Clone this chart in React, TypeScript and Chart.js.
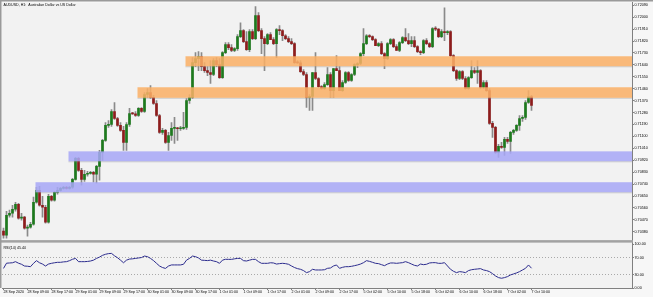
import React, { useEffect, useRef } from 'react';
import { Chart, registerables } from 'chart.js';

Chart.register(...registerables);

const chartTitle = 'AUDUSD, H1:  Australian Dollar vs US Dollar';
const rsiTitle = 'RSI(14) 45.44';

const timeLabels = [
  '28 Sep 2020', '28 Sep 09:00', '28 Sep 17:00', '29 Sep 01:00', '29 Sep 09:00', '29 Sep 17:00',
  '30 Sep 01:00', '30 Sep 09:00', '30 Sep 17:00', '1 Oct 01:00', '1 Oct 09:00', '1 Oct 17:00',
  '2 Oct 01:00', '2 Oct 09:00', '2 Oct 17:00', '5 Oct 02:00', '5 Oct 10:00', '5 Oct 18:00',
  '6 Oct 02:00', '6 Oct 10:00', '6 Oct 18:00', '7 Oct 02:00', '7 Oct 10:00',
];
const barsPerLabel = 8;
const totalSlots = 210;

// [open, high, low, close]
const candles = [
  [0.70385, 0.70407, 0.70332, 0.70354], [0.70354, 0.70535, 0.70332, 0.70505], [0.70505, 0.70543, 0.70490, 0.70520],
  [0.70520, 0.70580, 0.70490, 0.70550], [0.70550, 0.70603, 0.70535, 0.70588], [0.70588, 0.70595, 0.70475, 0.70482],
  [0.70482, 0.70520, 0.70467, 0.70490], [0.70490, 0.70497, 0.70400, 0.70407], [0.70407, 0.70430, 0.70347, 0.70415],
  [0.70415, 0.70452, 0.70407, 0.70437], [0.70437, 0.70641, 0.70430, 0.70603], [0.70603, 0.70716, 0.70595, 0.70693],
  [0.70693, 0.70723, 0.70573, 0.70580], [0.70580, 0.70648, 0.70490, 0.70565], [0.70565, 0.70580, 0.70445, 0.70452],
  [0.70452, 0.70663, 0.70445, 0.70648], [0.70648, 0.70656, 0.70611, 0.70618], [0.70618, 0.70686, 0.70611, 0.70678],
  [0.70678, 0.70716, 0.70663, 0.70693], [0.70693, 0.70716, 0.70686, 0.70708], [0.70708, 0.70723, 0.70701, 0.70716],
  [0.70716, 0.70723, 0.70701, 0.70708], [0.70708, 0.70723, 0.70701, 0.70716], [0.70716, 0.70784, 0.70708, 0.70776],
  [0.70776, 0.70942, 0.70769, 0.70934], [0.70934, 0.70942, 0.70836, 0.70844], [0.70844, 0.70859, 0.70731, 0.70776],
  [0.70776, 0.70844, 0.70761, 0.70814], [0.70814, 0.70836, 0.70799, 0.70821], [0.70821, 0.70836, 0.70814, 0.70829],
  [0.70829, 0.70836, 0.70754, 0.70814], [0.70814, 0.70882, 0.70746, 0.70874], [0.70874, 0.70995, 0.70769, 0.70979],
  [0.70979, 0.71077, 0.70919, 0.71070], [0.71070, 0.71205, 0.71062, 0.71183], [0.71183, 0.71220, 0.71168, 0.71190],
  [0.71190, 0.71303, 0.71175, 0.71288], [0.71288, 0.71356, 0.71228, 0.71235], [0.71235, 0.71243, 0.71175, 0.71183],
  [0.71183, 0.71205, 0.71138, 0.71145], [0.71145, 0.71175, 0.70995, 0.71055], [0.71055, 0.71205, 0.70995, 0.71190],
  [0.71190, 0.71311, 0.71175, 0.71273], [0.71273, 0.71281, 0.71266, 0.71270], [0.71270, 0.71288, 0.71251, 0.71258],
  [0.71258, 0.71318, 0.71251, 0.71311], [0.71311, 0.71318, 0.71281, 0.71288], [0.71288, 0.71431, 0.71281, 0.71416],
  [0.71416, 0.71461, 0.71394, 0.71431], [0.71431, 0.71484, 0.71386, 0.71394], [0.71394, 0.71409, 0.71341, 0.71348],
  [0.71348, 0.71371, 0.71251, 0.71258], [0.71258, 0.71266, 0.71123, 0.71130], [0.71130, 0.71160, 0.71115, 0.71145],
  [0.71145, 0.71153, 0.71047, 0.71055], [0.71055, 0.71130, 0.70995, 0.71107], [0.71107, 0.71205, 0.71070, 0.71160],
  [0.71160, 0.71243, 0.71047, 0.71162], [0.71162, 0.71168, 0.71070, 0.71158], [0.71158, 0.71175, 0.71145, 0.71160],
  [0.71160, 0.71281, 0.71153, 0.71168], [0.71168, 0.71386, 0.71153, 0.71371], [0.71371, 0.71416, 0.71348, 0.71394],
  [0.71394, 0.71695, 0.71386, 0.71657], [0.71657, 0.71732, 0.71627, 0.71687], [0.71687, 0.71740, 0.71597, 0.71702],
  [0.71702, 0.71732, 0.71597, 0.71627], [0.71627, 0.71657, 0.71582, 0.71597], [0.71597, 0.71627, 0.71559, 0.71582],
  [0.71582, 0.71672, 0.71499, 0.71567], [0.71567, 0.71687, 0.71559, 0.71672], [0.71672, 0.71695, 0.71627, 0.71642],
  [0.71642, 0.71687, 0.71537, 0.71544], [0.71544, 0.71740, 0.71537, 0.71732], [0.71732, 0.71808, 0.71725, 0.71793],
  [0.71793, 0.71808, 0.71755, 0.71770], [0.71770, 0.71793, 0.71740, 0.71748], [0.71748, 0.71770, 0.71740, 0.71763],
  [0.71763, 0.71868, 0.71748, 0.71853], [0.71853, 0.71958, 0.71845, 0.71898], [0.71898, 0.71906, 0.71808, 0.71815],
  [0.71815, 0.71891, 0.71748, 0.71755], [0.71755, 0.71906, 0.71740, 0.71891], [0.71891, 0.71906, 0.71830, 0.71838],
  [0.71838, 0.72079, 0.71830, 0.72011], [0.72011, 0.72034, 0.71891, 0.71898], [0.71898, 0.71913, 0.71725, 0.71838],
  [0.71838, 0.71853, 0.71597, 0.71800], [0.71800, 0.71876, 0.71793, 0.71868], [0.71868, 0.71883, 0.71830, 0.71830],
  [0.71830, 0.71845, 0.71793, 0.71800], [0.71800, 0.71913, 0.71695, 0.71906], [0.71906, 0.71936, 0.71868, 0.71898],
  [0.71898, 0.71906, 0.71823, 0.71860], [0.71860, 0.71868, 0.71830, 0.71838], [0.71838, 0.71853, 0.71808, 0.71815],
  [0.71815, 0.71838, 0.71793, 0.71800], [0.71800, 0.71808, 0.71650, 0.71657], [0.71657, 0.71672, 0.71650, 0.71655],
  [0.71655, 0.71672, 0.71582, 0.71589], [0.71589, 0.71604, 0.71559, 0.71567], [0.71567, 0.71582, 0.71318, 0.71394],
  [0.71394, 0.71416, 0.71296, 0.71401], [0.71401, 0.71582, 0.71296, 0.71582], [0.71582, 0.71732, 0.71529, 0.71537],
  [0.71537, 0.71544, 0.71469, 0.71476], [0.71476, 0.71484, 0.71454, 0.71461], [0.71461, 0.71507, 0.71454, 0.71491],
  [0.71491, 0.71619, 0.71484, 0.71567], [0.71567, 0.71582, 0.71394, 0.71446], [0.71446, 0.71612, 0.71394, 0.71612],
  [0.71612, 0.71710, 0.71597, 0.71597], [0.71597, 0.71627, 0.71446, 0.71446], [0.71446, 0.71522, 0.71439, 0.71507],
  [0.71507, 0.71589, 0.71499, 0.71582], [0.71582, 0.71589, 0.71514, 0.71522], [0.71522, 0.71574, 0.71514, 0.71567],
  [0.71567, 0.71650, 0.71559, 0.71642], [0.71642, 0.71657, 0.71619, 0.71650], [0.71650, 0.71732, 0.71642, 0.71725],
  [0.71725, 0.71913, 0.71710, 0.71800], [0.71800, 0.71868, 0.71793, 0.71860], [0.71860, 0.71868, 0.71845, 0.71853],
  [0.71853, 0.71860, 0.71823, 0.71830], [0.71830, 0.71838, 0.71785, 0.71785], [0.71785, 0.71808, 0.71778, 0.71800],
  [0.71800, 0.71815, 0.71717, 0.71725], [0.71725, 0.71732, 0.71612, 0.71687], [0.71687, 0.71808, 0.71680, 0.71800],
  [0.71800, 0.71838, 0.71793, 0.71830], [0.71830, 0.71838, 0.71770, 0.71778], [0.71778, 0.71793, 0.71748, 0.71748],
  [0.71748, 0.71815, 0.71740, 0.71808], [0.71808, 0.71853, 0.71800, 0.71845], [0.71845, 0.71913, 0.71815, 0.71823],
  [0.71823, 0.71876, 0.71793, 0.71800], [0.71800, 0.71853, 0.71778, 0.71823], [0.71823, 0.71853, 0.71770, 0.71778],
  [0.71778, 0.71785, 0.71732, 0.71740], [0.71740, 0.71748, 0.71717, 0.71732], [0.71732, 0.71830, 0.71725, 0.71823],
  [0.71823, 0.71838, 0.71793, 0.71800], [0.71800, 0.71808, 0.71770, 0.71778], [0.71778, 0.71921, 0.71770, 0.71913],
  [0.71913, 0.71928, 0.71898, 0.71910], [0.71910, 0.71913, 0.71845, 0.71853], [0.71853, 0.71906, 0.71845, 0.71891],
  [0.71891, 0.72071, 0.71823, 0.71883], [0.71883, 0.71898, 0.71868, 0.71891], [0.71891, 0.71898, 0.71702, 0.71710],
  [0.71710, 0.71717, 0.71589, 0.71597], [0.71597, 0.71604, 0.71522, 0.71537], [0.71537, 0.71597, 0.71529, 0.71589],
  [0.71589, 0.71597, 0.71529, 0.71537], [0.71537, 0.71552, 0.71454, 0.71461], [0.71461, 0.71552, 0.71454, 0.71544],
  [0.71544, 0.71672, 0.71537, 0.71597], [0.71597, 0.71619, 0.71574, 0.71582], [0.71582, 0.71672, 0.71499, 0.71597],
  [0.71597, 0.71604, 0.71461, 0.71469], [0.71469, 0.71522, 0.71461, 0.71507], [0.71507, 0.71522, 0.71439, 0.71446],
  [0.71446, 0.71461, 0.71190, 0.71198], [0.71198, 0.71213, 0.71092, 0.71168], [0.71168, 0.71175, 0.70972, 0.70979],
  [0.70979, 0.71040, 0.70942, 0.71025], [0.71025, 0.71055, 0.71010, 0.71017], [0.71017, 0.71092, 0.70957, 0.71077],
  [0.71077, 0.71092, 0.71047, 0.71062], [0.71062, 0.71138, 0.70972, 0.71130], [0.71130, 0.71153, 0.71115, 0.71145],
  [0.71145, 0.71190, 0.71138, 0.71183], [0.71183, 0.71258, 0.71145, 0.71235], [0.71235, 0.71258, 0.71213, 0.71243],
  [0.71243, 0.71371, 0.71228, 0.71356], [0.71356, 0.71446, 0.71348, 0.71401], [0.71401, 0.71409, 0.71296, 0.71333],
];

const rsiValues = [
  45, 57, 57.5, 58, 60.5, 57, 54.5, 50.5, 50, 49,
  56.7, 62.8, 58, 55, 50.5, 55, 56.7, 58, 59, 59,
  60, 60.5, 62.8, 66, 68, 60.5, 60.5, 60.5, 61, 62,
  64, 68, 71, 75, 77.5, 79, 79.5, 74, 69.6, 64,
  58, 64, 66.5, 67, 68, 69, 70, 73.4, 72, 68,
  63, 56.7, 50.6, 47, 45, 50.5, 53, 53, 53, 53,
  54.5, 64, 68, 73.4, 72, 69, 64, 63.5, 63, 64,
  62, 60.5, 56.7, 64, 66, 65.8, 65.8, 67, 68, 68,
  62.8, 62, 64, 65.8, 65.8, 60.5, 56.7, 56.7, 56.7, 58,
  57.5, 55, 56, 56.7, 56, 54.5, 50.6, 47, 44.5, 43,
  40, 35.3, 37.6, 43, 41.4, 41.4, 41.4, 42, 45.2, 46,
  50.6, 52.9, 45.2, 47.5, 49, 49, 49.8, 51.3, 52.9, 55,
  58.2, 62.8, 61.2, 59, 56.7, 56, 53.6, 51.3, 55, 57.5,
  57.5, 56.7, 57.5, 58.2, 60.5, 58.2, 55, 52, 50.6, 55,
  53.6, 54.5, 57.5, 58.2, 58.2, 56.7, 56.7, 58.2, 50.6, 43,
  38.4, 35.3, 37.6, 36.8, 35.3, 40, 42, 43, 43.7, 44.5,
  41.4, 40, 37.6, 33, 27.7, 23.9, 22.4, 23.9, 26.2, 30,
  32.3, 34.6, 37.6, 41.4, 45.2, 52.9, 45.44,
];

const priceTicks = [
  0.70380, 0.70470, 0.70560, 0.70650, 0.70740, 0.70830, 0.70920, 0.71010, 0.71100, 0.71190,
  0.71280, 0.71370, 0.71460, 0.71550, 0.71640, 0.71730, 0.71820, 0.71910, 0.72000, 0.72090,
];
const priceMin = 0.70317;
const priceMax = 0.72109;
const rsiTicks = [0, 30, 70, 100];
const rsiLevels = [30, 70];

// horizontal zones: first bar index, upper price, lower price, kind
const zoneStarts = [61, 45, 22, 11];
const zoneTops = [0.71705, 0.71471, 0.70987, 0.70754];
const zoneBottoms = [0.71629, 0.71391, 0.70912, 0.70678];
const zoneKinds = ['resistance', 'resistance', 'support', 'support'];

const FONT = 'Liberation Sans';

export default function App() {
  const ref = useRef<HTMLCanvasElement>(null);

  useEffect(() => {
    document.body.style.margin = '0';
    const canvas = ref.current;
    if (!canvas) return;

    const categories = Array.from({ length: totalSlots }, (_, i) =>
      i % barsPerLabel === 0 && i / barsPerLabel < timeLabels.length ? timeLabels[i / barsPerLabel] : ''
    );
    const isLabelSlot = (i: number) => i % barsPerLabel === 0 && i / barsPerLabel < timeLabels.length;

    const bull = '#1d7a1d';
    const bear = '#8e1c1c';
    const zoneFill: Record<string, string> = {
      resistance: 'rgba(250,176,103,0.86)',
      support: 'rgba(168,168,247,0.86)',
    };

    const decor = {
      id: 'mt4decor',
      beforeDraw(chart: any) {
        const { ctx, chartArea: a, width, height } = chart;
        ctx.save();
        ctx.fillStyle = '#f7f7f7';
        ctx.fillRect(0, 0, width, height);
        ctx.fillStyle = '#f2f2f2';
        ctx.fillRect(a.left, a.top, a.right - a.left, a.bottom - a.top);
        ctx.restore();
      },
      afterDatasetsDraw(chart: any) {
        const { ctx, chartArea: a, scales } = chart;
        const xs = scales.x;
        const ys = scales.y;
        ctx.save();
        ctx.beginPath();
        ctx.rect(a.left, ys.top, a.right - a.left, ys.bottom - ys.top);
        ctx.clip();
        zoneStarts.forEach((s, k) => {
          const x0 = xs.getPixelForValue(s) - 1;
          const yT = ys.getPixelForValue(zoneTops[k]);
          const yB = ys.getPixelForValue(zoneBottoms[k]);
          ctx.fillStyle = zoneFill[zoneKinds[k]];
          ctx.fillRect(x0, yT, a.right - x0, yB - yT);
          ctx.fillStyle = 'rgba(140,140,140,0.35)';
          ctx.fillRect(x0, yB, a.right - x0, 1);
        });
        ctx.restore();
      },
      afterDraw(chart: any) {
        const { ctx, chartArea: a, scales, width } = chart;
        const ys = scales.y;
        ctx.save();
        ctx.fillStyle = '#a2a2a2';
        ctx.fillRect(0, ys.bottom, a.right + 1, 2.5);
        ctx.fillStyle = '#9a9a9a';
        ctx.fillRect(0, 0, width, 1.5);
        ctx.fillRect(0, 0, 1.5, a.bottom);
        ctx.fillStyle = '#000';
        ctx.textBaseline = 'middle';
        ctx.textAlign = 'left';
        ctx.font = `3.6px "${FONT}"`;
        ctx.fillText(chartTitle, 3.5, 4.6);
        ctx.fillText(rsiTitle, 3.5, ys.bottom + 7.5);
        ctx.restore();
      },
    };

    const chart = new Chart(canvas, {
      type: 'bar',
      data: {
        labels: categories,
        datasets: [
          {
            type: 'line',
            label: 'RSI(14)',
            data: rsiValues,
            borderColor: '#2c2c8e',
            borderWidth: 1,
            pointRadius: 0,
            tension: 0,
            yAxisID: 'rsi',
            order: 0,
          } as any,
          {
            type: 'bar',
            label: 'body',
            data: candles.map((c) => [c[0], c[3]]),
            backgroundColor: candles.map((c) => (c[3] >= c[0] ? bull : bear)),
            barThickness: 2,
            grouped: false,
            minBarLength: 1,
            yAxisID: 'y',
            order: 1,
          } as any,
          {
            type: 'bar',
            label: 'wick',
            data: candles.map((c) => [c[2], c[1]]),
            backgroundColor: '#8a8a8a',
            barThickness: 1,
            grouped: false,
            yAxisID: 'y',
            order: 2,
          } as any,
        ],
      },
      options: {
        responsive: false,
        maintainAspectRatio: false,
        animation: false,
        layout: { padding: { top: 2, left: 2, right: 0, bottom: 0 } },
        plugins: { legend: { display: false }, tooltip: { enabled: false } },
        scales: {
          x: {
            type: 'category',
            offset: true,
            grid: {
              display: true,
              drawOnChartArea: false,
              drawTicks: true,
              tickLength: 2,
              offset: false,
              tickColor: (ctx: any) => (isLabelSlot(ctx.index) ? '#808080' : 'rgba(0,0,0,0)'),
            },
            border: { display: true, color: '#808080', width: 1 },
            ticks: {
              autoSkip: false,
              maxRotation: 0,
              minRotation: 0,
              align: 'start',
              padding: 0,
              color: '#000',
              font: { family: FONT, size: 3.6 },
            },
            afterFit: (s: any) => {
              s.height = 9;
            },
          },
          y: {
            type: 'linear',
            position: 'right',
            stack: 'panes',
            stackWeight: 238,
            min: priceMin,
            max: priceMax,
            grid: { drawOnChartArea: false, drawTicks: true, tickLength: 2, tickColor: '#808080' },
            border: { display: true, color: '#808080' },
            afterBuildTicks: (s: any) => {
              s.ticks = priceTicks.map((v) => ({ value: v }));
            },
            ticks: {
              autoSkip: false,
              padding: 0.5,
              color: '#000',
              font: { family: FONT, size: 3.7 },
              callback: (v: any) => Number(v).toFixed(5),
            },
            afterFit: (s: any) => {
              s.width = 21;
            },
          },
          rsi: {
            type: 'linear',
            position: 'right',
            stack: 'panes',
            stackWeight: 48,
            min: 0,
            max: 110,
            grid: {
              drawOnChartArea: true,
              drawTicks: true,
              tickLength: 2,
              tickColor: '#808080',
              color: (ctx: any) =>
                ctx.tick && rsiLevels.includes(ctx.tick.value) ? '#a9a9a9' : 'rgba(0,0,0,0)',
            },
            border: { display: true, color: '#808080', dash: [1, 2] },
            afterBuildTicks: (s: any) => {
              s.ticks = rsiTicks.map((v) => ({ value: v }));
            },
            ticks: {
              autoSkip: false,
              padding: 0.5,
              color: '#000',
              font: { family: FONT, size: 3.7 },
              callback: (v: any) => Number(v).toFixed(2),
            },
            afterFit: (s: any) => {
              s.width = 21;
            },
          },
        },
      } as any,
      plugins: [decor],
    });

    return () => chart.destroy();
  }, []);

  return (
    <div style={{ width: 653, height: 297, overflow: 'hidden' }}>
      <canvas ref={ref} width={653} height={297} style={{ display: 'block', width: 653, height: 297 }} />
    </div>
  );
}
